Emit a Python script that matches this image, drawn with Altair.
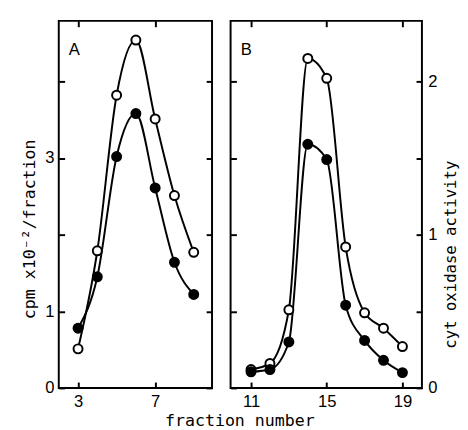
import altair as alt
import pandas as pd

# Panel A
fractions_a = [3, 4, 5, 6, 7, 8, 9]
open_a = [0.51, 1.79, 3.82, 4.54, 3.51, 2.51, 1.77]
filled_a = [0.78, 1.45, 3.02, 3.58, 2.61, 1.64, 1.22]

# Panel B
fractions_b = [11, 12, 13, 14, 15, 16, 17, 18, 19]
open_b = [0.12, 0.16, 0.51, 2.15, 2.02, 0.92, 0.49, 0.39, 0.27]
filled_b = [0.105, 0.12, 0.30, 1.59, 1.49, 0.54, 0.31, 0.18, 0.10]

xticks_a = [3, 7]
xticks_b = [11, 15, 19]
yticks_a = [0, 1, 2, 3, 4]
yticks_b = [0, 0.5, 1, 1.5, 2]
panel_labels = ["A", "B"]


def frame(fr, op, fi):
    rows = []
    for f, v in zip(fr, op):
        rows.append({"fraction": f, "value": v, "series": "open"})
    for f, v in zip(fr, fi):
        rows.append({"fraction": f, "value": v, "series": "filled"})
    return pd.DataFrame(rows)


def panel(df, xdom, ydom, width, xticks, yleft_axis, yright_axis, label):
    xs = alt.Scale(domain=xdom, nice=False, zero=False)
    ys = alt.Scale(domain=ydom, nice=False, zero=False)
    line = alt.Chart(df).mark_line(
        color="black", strokeWidth=2, interpolate="monotone"
    ).encode(
        x=alt.X("fraction:Q", scale=xs,
                axis=alt.Axis(orient="bottom", values=xticks, title=None,
                              labelPadding=6, format="d")),
        y=alt.Y("value:Q", scale=ys, axis=yleft_axis),
        detail="series:N",
    )
    pts = alt.Chart(df).mark_point(
        filled=True, size=85, stroke="black", strokeWidth=2, opacity=1, shape="circle"
    ).encode(
        x=alt.X("fraction:Q", scale=xs,
                axis=alt.Axis(orient="top", values=xticks, title=None, labels=False)),
        y=alt.Y("value:Q", scale=ys, axis=yright_axis),
        fill=alt.Fill("series:N",
                      scale=alt.Scale(domain=["open", "filled"], range=["white", "black"]),
                      legend=None),
    )
    txt = alt.Chart(pd.DataFrame({"label": [label]})).mark_text(
        fontSize=17, font="Liberation Sans", color="black"
    ).encode(text="label:N", x=alt.value(16), y=alt.value(30))
    return alt.layer(line, pts, txt).resolve_axis(
        x="independent", y="independent"
    ).properties(width=width, height=376)


df_a = frame(fractions_a, open_a, filled_a)
df_b = frame(fractions_b, open_b, filled_b)

a_left = alt.Axis(orient="left", values=yticks_a, title="cpm x10⁻²/fraction",
                  labelExpr="datum.value == 2 || datum.value == 4 ? '' : '' + datum.value",
                  labelPadding=5, titlePadding=6, titleY=213, titleFontSize=17)
a_right = alt.Axis(orient="right", values=yticks_a, title=None, labels=False)
b_left = alt.Axis(orient="left", values=yticks_b, title=None, labels=False)
b_right = alt.Axis(orient="right", values=yticks_b, title="cyt oxidase  activity",
                   labelExpr="datum.value % 1 == 0 ? '' + datum.value : ''",
                   labelPadding=6, titlePadding=6, titleAngle=270,
                   titleBaseline="top", titleY=239)

pa = panel(df_a, [2, 9.95], [0, 4.79], 157, xticks_a, a_left, a_right, panel_labels[0])
pb = panel(df_b, [9.92, 20.03], [0, 2.395], 196, xticks_b, b_left, b_right, panel_labels[1])

chart = alt.hconcat(
    pa, pb, spacing=15,
    title=alt.TitleParams("fraction  number", orient="bottom", anchor="middle",
                          font="DejaVu Sans Mono", fontSize=17, fontWeight="normal",
                          color="black", offset=3),
).properties(
    padding={"left": 12, "top": 6, "right": 0, "bottom": 0},
    background="white",
).configure_view(
    stroke="black", strokeWidth=2
).configure_axis(
    domain=False, grid=False, tickSize=6, tickWidth=2, tickColor="black",
    offset=-6, labelColor="black", labelFont="Liberation Sans", labelFontSize=17,
    titleFont="DejaVu Sans Mono", titleFontSize=16, titleFontWeight="normal",
    titleColor="black", labelFlush=False, labelOverlap=False
)

chart.save("out.html", embed_options={"renderer": "svg", "actions": False})
